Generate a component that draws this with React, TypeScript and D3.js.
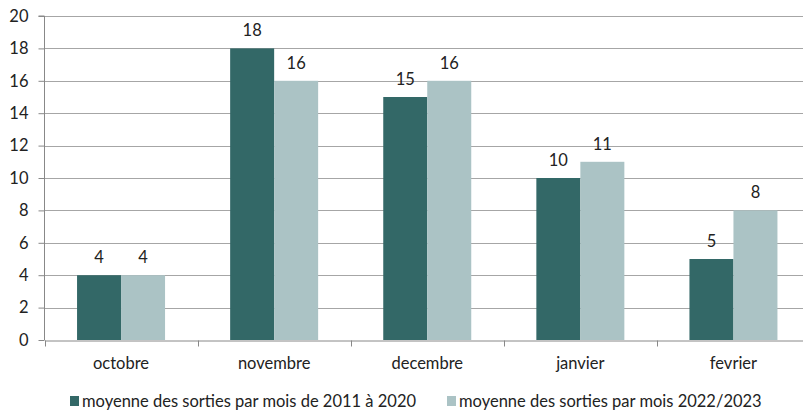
import * as d3 from "d3";
import React, { useRef, useEffect } from "react";

const months = ["octobre", "novembre", "decembre", "janvier", "fevrier"];
const serieA = [4, 18, 15, 10, 5];
const serieB = [4, 16, 16, 11, 8];
const seriesNames = [
  "moyenne des sorties par mois de 2011 à 2020",
  "moyenne des sorties par mois 2022/2023",
];
const yTicks = [0, 2, 4, 6, 8, 10, 12, 14, 16, 18, 20];

const colors = ["#336867", "#abc3c5"];
const font = "Lato, 'Open Sans', sans-serif";
const fs = 16.5;

const App = () => {
  const ref = useRef<SVGSVGElement>(null);
  const width = 803;
  const height = 412;

  useEffect(() => {
    const svg = d3.select(ref.current);
    svg.selectAll("*").remove();

    const left = 44.5;
    const top = 16;
    const bottom = 340;
    const right = 810;

    const x = d3.scaleBand().domain(months).range([left, right]).paddingInner(0).paddingOuter(0);
    const y = d3.scaleLinear().domain([0, 20]).range([bottom, top]);
    const barW = 44;

    // gridlines
    svg.append("g")
      .selectAll("line")
      .data(yTicks.slice(1))
      .enter()
      .append("line")
      .attr("x1", left)
      .attr("x2", right)
      .attr("y1", (d) => Math.round(y(d)) + 0.5)
      .attr("y2", (d) => Math.round(y(d)) + 0.5)
      .attr("stroke", "#a6a6a6")
      .attr("stroke-width", 1);

    // bars
    const series = [serieA, serieB];
    series.forEach((vals, si) => {
      svg.append("g")
        .selectAll("rect")
        .data(vals)
        .enter()
        .append("rect")
        .attr("x", (d, i) => x(months[i])! + x.bandwidth() / 2 - barW + si * barW)
        .attr("y", (d) => y(d))
        .attr("width", barW)
        .attr("height", (d) => bottom - y(d))
        .attr("fill", colors[si]);

      svg.append("g")
        .selectAll("text")
        .data(vals)
        .enter()
        .append("text")
        .attr("x", (d, i) => x(months[i])! + x.bandwidth() / 2 - barW / 2 + si * barW)
        .attr("y", (d) => y(d) - 12)
        .attr("text-anchor", "middle")
        .attr("font-family", font)
        .attr("font-size", fs)
        .attr("fill", "#222")
        .text((d) => d);
    });

    // y axis
    const axisLeft = svg.append("g").attr("transform", `translate(${left},0)`);
    axisLeft.call(d3.axisLeft(y).tickValues(yTicks).tickSize(6).tickPadding(10).tickFormat(d3.format("d")));
    axisLeft.select(".domain").attr("stroke", "#888").attr("d", `M-6,${top}H0V${bottom}`);
    axisLeft.selectAll(".tick line").attr("stroke", "#888");
    axisLeft.selectAll(".tick text")
      .attr("font-family", font)
      .attr("font-size", fs)
      .attr("fill", "#222");

    // x axis
    const axisBottom = svg.append("g").attr("transform", `translate(0,${bottom + 0.5})`);
    axisBottom.call(d3.axisBottom(x).tickSize(0).tickPadding(17));
    axisBottom.select(".domain").attr("stroke", "#888");
    axisBottom.selectAll(".tick text")
      .attr("font-family", font)
      .attr("font-size", fs)
      .attr("fill", "#222");
    axisBottom.append("g")
      .selectAll("line")
      .data(months)
      .enter()
      .append("line")
      .attr("x1", (d) => Math.round(x(d)!) + 0.5)
      .attr("x2", (d) => Math.round(x(d)!) + 0.5)
      .attr("y1", 0)
      .attr("y2", 6)
      .attr("stroke", "#888");

    // legend
    const legendX = [70, 447];
    const leg = svg.append("g");
    seriesNames.forEach((name, i) => {
      leg.append("rect")
        .attr("x", legendX[i])
        .attr("y", 396)
        .attr("width", 9)
        .attr("height", 10)
        .attr("fill", colors[i]);
      leg.append("text")
        .attr("x", legendX[i] + 12)
        .attr("y", 407)
        .attr("font-family", font)
        .attr("font-size", fs)
        .attr("fill", "#222")
        .text(name);
    });
  }, []);

  return (
    <svg
      ref={ref}
      width={width}
      height={height}
      style={{ position: "absolute", left: 0, top: 0, background: "#fff" }}
    />
  );
};

export default App;
